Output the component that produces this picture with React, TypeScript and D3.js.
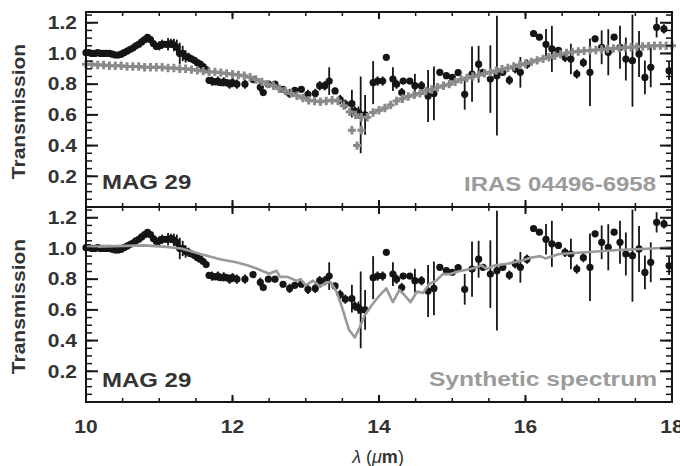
import React from 'react';
import * as d3 from 'd3';

// MAG 29 observed transmission (black dots with error bars)
const obsWave = [
  10.00, 10.04, 10.08, 10.12, 10.16, 10.20, 10.24, 10.28, 10.32, 10.36,
  10.40, 10.44, 10.48, 10.52, 10.56, 10.60, 10.64, 10.68, 10.72, 10.76,
  10.80, 10.84, 10.88, 10.92, 10.96, 11.00, 11.04, 11.08, 11.12, 11.16,
  11.20, 11.24, 11.28, 11.32, 11.36, 11.40, 11.44, 11.48, 11.52, 11.56,
  11.60, 11.64, 11.68, 11.72, 11.76, 11.80, 11.84, 11.88, 11.92, 11.96,
  12.00, 12.06, 12.17, 12.28, 12.38, 12.42, 12.49, 12.58, 12.69, 12.78,
  12.85, 12.94, 13.03, 13.13, 13.19, 13.26, 13.32, 13.40, 13.47, 13.54,
  13.63, 13.67, 13.72, 13.75, 13.81, 13.92, 13.98, 14.05, 14.10, 14.19,
  14.24, 14.31, 14.33, 14.42, 14.49, 14.58, 14.67, 14.75, 14.83, 14.92,
  15.00, 15.08, 15.17, 15.27, 15.36, 15.42, 15.52, 15.61, 15.69, 15.78,
  15.86, 15.93, 16.02, 16.11, 16.19, 16.28, 16.36, 16.45, 16.54, 16.62,
  16.70, 16.79, 16.88, 16.95, 17.04, 17.13, 17.21, 17.29, 17.37, 17.46,
  17.55, 17.63, 17.71, 17.79, 17.89, 17.96,
];
const obsTrans = [
  1.005, 1.005, 1.0, 1.0, 1.005, 1.0, 1.0, 1.0, 1.0, 0.995,
  0.99, 0.99, 0.995, 1.005, 1.015, 1.025, 1.035, 1.05, 1.06, 1.075,
  1.09, 1.105, 1.09, 1.065, 1.045, 1.05, 1.06, 1.06, 1.06, 1.065,
  1.055, 1.04, 1.0, 1.0, 0.98, 0.975, 0.965, 0.955, 0.94, 0.93,
  0.915, 0.895, 0.825, 0.82, 0.815, 0.82, 0.81, 0.815, 0.81, 0.8,
  0.81, 0.8, 0.8, 0.83, 0.78, 0.745, 0.8, 0.8, 0.767, 0.74,
  0.76, 0.767, 0.734, 0.74, 0.79, 0.79, 0.82, 0.756, 0.7, 0.67,
  0.673, 0.625, 0.614, 0.6, 0.6, 0.81, 0.82, 0.82, 0.975, 0.833,
  0.8, 0.745, 0.82, 0.82, 0.79, 0.79, 0.723, 0.74, 0.877, 0.855,
  0.845, 0.875, 0.734, 0.866, 0.93, 0.877, 0.833, 0.855, 0.877, 0.826,
  0.9, 0.877, 0.93, 1.13, 1.106, 1.06, 1.03, 1.02, 0.975, 0.964,
  0.866, 0.94, 0.877, 1.095, 1.04, 1.008, 1.106, 1.04, 0.964, 0.953,
  0.997, 0.844, 0.91, 1.17, 1.16, 0.887,
];
const obsErr = [
  0.012, 0.012, 0.012, 0.012, 0.012, 0.012, 0.012, 0.012, 0.012, 0.012,
  0.012, 0.012, 0.012, 0.012, 0.012, 0.012, 0.012, 0.012, 0.012, 0.012,
  0.012, 0.012, 0.015, 0.015, 0.02, 0.03, 0.03, 0.02, 0.04, 0.03,
  0.04, 0.05, 0.07, 0.05, 0.04, 0.03, 0.02, 0.02, 0.02, 0.015,
  0.015, 0.015, 0.02, 0.03, 0.02, 0.03, 0.02, 0.03, 0.02, 0.03,
  0.03, 0.03, 0.03, 0.02, 0.03, 0.02, 0.02, 0.02, 0.02, 0.03,
  0.02, 0.02, 0.03, 0.03, 0.03, 0.03, 0.09, 0.02, 0.03, 0.03,
  0.09, 0.03, 0.04, 0.25, 0.13, 0.14, 0.03, 0.03, 0.015, 0.077,
  0.03, 0.03, 0.02, 0.02, 0.077, 0.03, 0.17, 0.175, 0.02, 0.02,
  0.02, 0.02, 0.1, 0.18, 0.12, 0.02, 0.22, 0.39, 0.02, 0.03,
  0.03, 0.1, 0.03, 0.02, 0.02, 0.1, 0.15, 0.02, 0.03, 0.1,
  0.03, 0.03, 0.22, 0.02, 0.11, 0.15, 0.02, 0.14, 0.14, 0.3,
  0.15, 0.11, 0.13, 0.066, 0.03, 0.06,
];

// IRAS 04496-6958 (grey crosses), sampled every 0.08 um from 10 um
const irasStart = 10;
const irasStep = 0.08;
const irasTrans = [
  0.93, 0.93, 0.925, 0.925, 0.92, 0.92, 0.92, 0.915, 0.915, 0.915,
  0.91, 0.91, 0.91, 0.91, 0.905, 0.905, 0.9, 0.9, 0.895, 0.89,
  0.885, 0.88, 0.88, 0.875, 0.87, 0.865, 0.86, 0.855, 0.845, 0.83,
  0.815, 0.8, 0.79, 0.77, 0.755, 0.74, 0.725, 0.71, 0.695, 0.69,
  0.685, 0.69, 0.695, 0.69, 0.66, 0.62, 0.6, 0.585, 0.585, 0.615,
  0.63, 0.645, 0.665, 0.69, 0.705, 0.72, 0.73, 0.74, 0.755, 0.765,
  0.78, 0.79, 0.8, 0.815, 0.83, 0.84, 0.85, 0.86, 0.87, 0.878,
  0.888, 0.897, 0.906, 0.915, 0.925, 0.935, 0.945, 0.955, 0.965, 0.975,
  0.985, 0.995, 1.003, 1.01, 1.013, 1.017, 1.02, 1.023, 1.026, 1.03,
  1.032, 1.035, 1.038, 1.04, 1.043, 1.045, 1.048, 1.05, 1.05, 1.05,
  1.05,
];
const irasExtraWave = [13.63, 13.76, 13.7];
const irasExtraTrans = [0.5, 0.5, 0.4];

// synthetic spectrum (grey line)
const synWave = [
  10.0, 10.4, 10.8, 11.1, 11.3, 11.55, 11.83, 12.05, 12.2, 12.3,
  12.4, 12.5, 12.6, 12.65, 12.75, 12.87, 12.93, 13.0, 13.1, 13.2,
  13.28, 13.34, 13.42, 13.5, 13.59, 13.67, 13.74, 13.8, 13.9, 14.0,
  14.1, 14.19, 14.28, 14.34, 14.43, 14.52, 14.6, 14.69, 14.78, 14.87,
  14.97, 15.08, 15.25, 15.33, 15.4, 15.47, 15.57, 15.75, 15.94, 16.07,
  16.2, 16.27, 16.46, 16.82, 17.27, 17.73, 18.0,
];
const synTrans = [
  1.01, 1.015, 1.02, 1.01, 1.0, 0.965, 0.93, 0.91, 0.89, 0.875,
  0.855, 0.835, 0.855, 0.815, 0.815, 0.79, 0.8, 0.76, 0.79, 0.75,
  0.78, 0.78, 0.72, 0.61, 0.47, 0.42, 0.49, 0.56, 0.63, 0.69,
  0.74, 0.65, 0.73, 0.7, 0.65, 0.72, 0.71, 0.77, 0.79, 0.833,
  0.833, 0.85, 0.866, 0.877, 0.89, 0.866, 0.888, 0.9, 0.92, 0.94,
  0.95, 0.935, 0.964, 0.975, 0.99, 1.0, 1.008,
];

const xTicks = ['10', '12', '14', '16', '18'];

const FONT = "'Liberation Sans', Arial, Helvetica, sans-serif";
const INK = '#151515';
const GREY = '#8a8a8a';

const x = d3.scaleLinear().domain([10, 18]).range([86, 672]);
const yTop = d3.scaleLinear().domain([0, 1.27]).range([207, 12]);
const yBot = d3.scaleLinear().domain([0, 1.27]).range([402, 207]);

function T({ x, y, size = 17.5, anchor = 'start', rot = 0, fill = '#333', len, children }: any) {
  return (
    <text
      transform={`translate(${x},${y}) rotate(${rot}) scale(1.2,1)`}
      fontFamily={FONT}
      fontWeight="bold"
      fontSize={size}
      textAnchor={anchor}
      fill={fill}
      textLength={len}
      lengthAdjust={len ? 'spacingAndGlyphs' : undefined}
    >
      {children}
    </text>
  );
}

function Frame({ y }: any) {
  const [b, t] = y.range();
  const [l, r] = x.range();
  const xMaj = x.ticks(4);
  const xMin = x.ticks(16);
  const yMaj = y.ticks(6);
  const yMin = y.ticks(25);
  return (
    <g stroke={INK} fill="none">
      {xMin.map((v: number) => (
        <g key={'xm' + v} strokeWidth={1.5}>
          <line x1={x(v)} x2={x(v)} y1={b} y2={b - 4} />
          <line x1={x(v)} x2={x(v)} y1={t} y2={t + 4} />
        </g>
      ))}
      {xMaj.map((v: number) => (
        <g key={'xM' + v} strokeWidth={2}>
          <line x1={x(v)} x2={x(v)} y1={b} y2={b - 7} />
          <line x1={x(v)} x2={x(v)} y1={t} y2={t + 7} />
        </g>
      ))}
      {yMin.map((v: number) => (
        <g key={'ym' + v} strokeWidth={1.5}>
          <line x1={l} x2={l + 6} y1={y(v)} y2={y(v)} />
          <line x1={r} x2={r - 6} y1={y(v)} y2={y(v)} />
        </g>
      ))}
      {yMaj.map((v: number) => (
        <g key={'yM' + v} strokeWidth={2}>
          <line x1={l} x2={l + 12} y1={y(v)} y2={y(v)} />
          <line x1={r} x2={r - 12} y1={y(v)} y2={y(v)} />
        </g>
      ))}
      <rect x={l} y={t} width={r - l} height={b - t} strokeWidth={2} />
    </g>
  );
}

function YLabels({ y }: any) {
  const [b, t] = y.range();
  return (
    <g>
      {y.ticks(6).filter((v: number) => v > 0).map((v: number) => (
        <T key={v} x={77} y={y(v) + 6.3} anchor="end">{d3.format('.1f')(v)}</T>
      ))}
      <T x={25} y={(b + t) / 2 + 2} rot={-90} anchor="middle">Transmission</T>
    </g>
  );
}

function Observed({ y }: any) {
  return (
    <g>
      <g stroke={INK} strokeWidth={1.8}>
        {obsWave.map((w, i) => (
          <line key={i} x1={x(w)} x2={x(w)} y1={y(obsTrans[i] - obsErr[i])} y2={y(obsTrans[i] + obsErr[i])} />
        ))}
      </g>
      <g fill={INK}>
        {obsWave.map((w, i) => (
          <circle key={i} cx={x(w)} cy={y(obsTrans[i])} r={3.6} />
        ))}
      </g>
    </g>
  );
}

function Crosses({ y }: any) {
  const pts = irasTrans.map((v, i) => [irasStart + i * irasStep, v]);
  irasExtraWave.forEach((w, i) => pts.push([w, irasExtraTrans[i]]));
  return (
    <g stroke={GREY} strokeWidth={3} fill="none">
      {pts.map(([w, v], i) => (
        <path key={i} d="M-4,0H4M0,-4.2V4.2" transform={`translate(${x(w)},${y(v)})`} />
      ))}
    </g>
  );
}

function Synthetic({ y }: any) {
  const line = d3.line<number>().x((d) => x(d)).y((_, i) => y(synTrans[i]));
  return <path d={line(synWave) || ''} fill="none" stroke="#999" strokeWidth={2.6} strokeLinejoin="round" />;
}

export default function App() {
  return (
    <svg width={680} height={466} style={{ position: 'absolute', left: 0, top: 0, background: '#fff' }}>
      <rect width={680} height={466} fill="#fff" />
      {/* top panel */}
      <Observed y={yTop} />
      <Crosses y={yTop} />
      <Frame y={yTop} />
      <YLabels y={yTop} />
      <T x={102} y={189} size={20}>MAG 29</T>
      <T x={656} y={191} size={20} anchor="end" fill="#9b9b9b" len={160}>IRAS 04496-6958</T>

      {/* bottom panel */}
      <Observed y={yBot} />
      <Synthetic y={yBot} />
      <Frame y={yBot} />
      <YLabels y={yBot} />
      <T x={102} y={387} size={20}>MAG 29</T>
      <T x={657} y={386} size={20.5} anchor="end" fill="#9b9b9b">Synthetic spectrum</T>

      {x.ticks(4).map((v: number, i: number) => (
        <T key={v} x={x(v)} y={433} anchor="middle">{xTicks[i]}</T>
      ))}
      <text x={378} y={463} textAnchor="middle" fontFamily={FONT} fontSize={18} fill="#333">
        <tspan fontStyle="italic">λ</tspan>
        <tspan> (</tspan>
        <tspan fontStyle="italic">μ</tspan>
        <tspan fontWeight="bold">m</tspan>
        <tspan>)</tspan>
      </text>
    </svg>
  );
}
